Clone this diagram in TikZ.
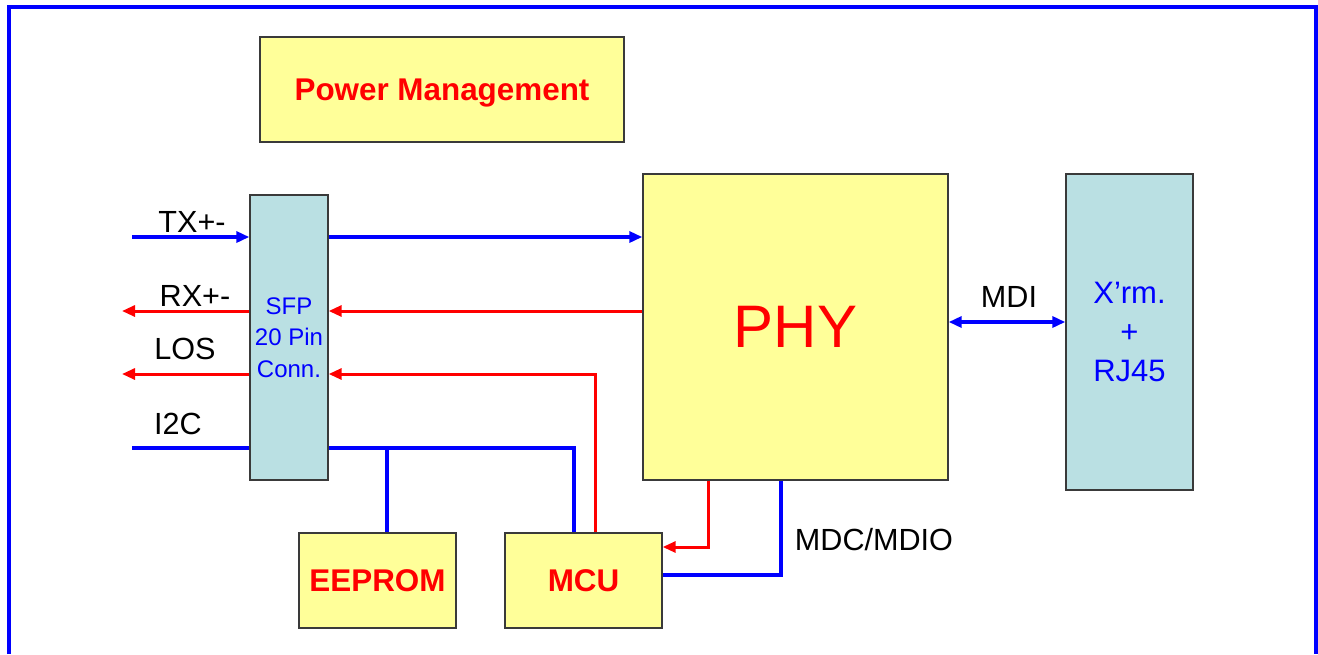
\documentclass[tikz,border=0pt]{standalone}
\usepackage{fontspec}
\setmainfont{Liberation Sans}
\usetikzlibrary{arrows.meta,positioning}
\definecolor{boxfill}{HTML}{FFFF99}
\definecolor{connfill}{HTML}{BAE0E3}
\definecolor{edge}{HTML}{3A3A3A}
\definecolor{sigblue}{HTML}{0000FF}
\definecolor{sigred}{HTML}{FF0000}
\tikzset{
  every node/.style={font=\fontsize{15.5}{19}\selectfont, text=black},
  block/.style={draw=edge, fill=boxfill, line width=0.7pt, inner sep=0pt, align=center},
  chip/.style={block, text=sigred, font=\fontsize{15.7}{19}\selectfont\bfseries, text height=11.2pt, text depth=0pt},
  conn/.style={block, fill=connfill, text=sigblue},
  bus/.style={draw=sigblue, line width=1.7pt},
  ctl/.style={draw=sigred, line width=1.5pt},
  endtip/.style={-{Triangle[length=6.5pt,width=5.5pt]}},
  bothtip/.style={{Triangle[length=6.5pt,width=5.5pt]}-{Triangle[length=6.5pt,width=5.5pt]}},
  lbl/.style={font=\fontsize{15.3}{18}\selectfont, inner sep=0pt},
}
\begin{document}
\begin{tikzpicture}[x=0.5pt, y=-0.5pt]
  \useasboundingbox (0,0) rectangle (1318,654);
  % ---- frame --------------------------------------------------------------
  \draw[sigblue, line width=2pt] (9,654) -- (9,7) -- (1316,7) -- (1316,654);

  % ---- blocks -------------------------------------------------------------
  \node[chip, minimum width=182pt, minimum height=52.5pt] (pwr) at (442,89.5) {Power Management};
  \node[conn, minimum width=39pt, minimum height=142.5pt, font=\fontsize{12}{15.8}\selectfont] (sfp) at (289,337.5) {SFP\\20 Pin\\Conn.};
  \node[block, minimum width=152.5pt, minimum height=153pt, text=sigred, font=\fontsize{30}{36}\selectfont] (phy) at (795.5,327) {PHY};
  \node[conn, minimum width=63.5pt, minimum height=158pt, font=\fontsize{15.5}{19.6}\selectfont] (xrm) at (1129.5,332) {X’rm.\\+\\RJ45};
  \node[chip, minimum width=78.5pt, minimum height=47.5pt] (eeprom) at (377.5,580.5) {EEPROM};
  \node[chip, minimum width=78.5pt, minimum height=47.5pt] (mcu) at (583.5,580.5) {MCU};

  % ---- free ends and bends ------------------------------------------------
  \coordinate (txin) at (132,237);
  \coordinate (rxout) at (122,311);
  \coordinate (losout) at (122,374);
  \coordinate (i2cin) at (132,448);
  \coordinate (losup) at (595,0);
  \coordinate (i2cdn) at (574,0);
  \coordinate (eetap) at (387,0);
  \coordinate (phyrx) at (708,547);
  \coordinate (mdc) at (781,575);
  \coordinate (mdiy) at (0,322);

  % ---- signals ------------------------------------------------------------
  \draw[bus, endtip] (txin) -- (txin -| sfp.west);
  \draw[bus, endtip] (txin -| sfp.east) -- (txin -| phy.west);
  \draw[ctl, endtip] (rxout -| phy.west) -- (rxout -| sfp.east);
  \draw[ctl, endtip] (rxout -| sfp.west) -- (rxout);
  \draw[ctl, endtip] (losup |- mcu.north) |- (losout -| sfp.east);
  \draw[ctl, endtip] (losout -| sfp.west) -- (losout);
  \draw[bus] (i2cin) -- (i2cin -| sfp.west);
  \draw[bus] (i2cin -| sfp.east) -| (i2cdn |- mcu.north);
  \draw[bus] (eetap |- i2cin) -- (eetap |- eeprom.north);
  \draw[ctl, endtip] (phyrx |- phy.south) |- (phyrx -| mcu.east);
  \draw[bus] (mdc |- phy.south) |- (mdc -| mcu.east);
  \draw[bus, bothtip] (mdiy -| phy.east) -- (mdiy -| xrm.west);

  % ---- labels -------------------------------------------------------------
  \node[lbl] (txl) at (192,222) {TX+-};
  \node[lbl] (rxl) at (195,296) {RX+-};
  \node[lbl] (losl) at (185,349) {LOS};
  \node[lbl] (i2cl) at (178,424) {I2C};
  \node[lbl] (mdil) at (1009,297) {MDI};
  \node[lbl] (mdcl) at (874,540) {MDC/MDIO};
\end{tikzpicture}
\end{document}
